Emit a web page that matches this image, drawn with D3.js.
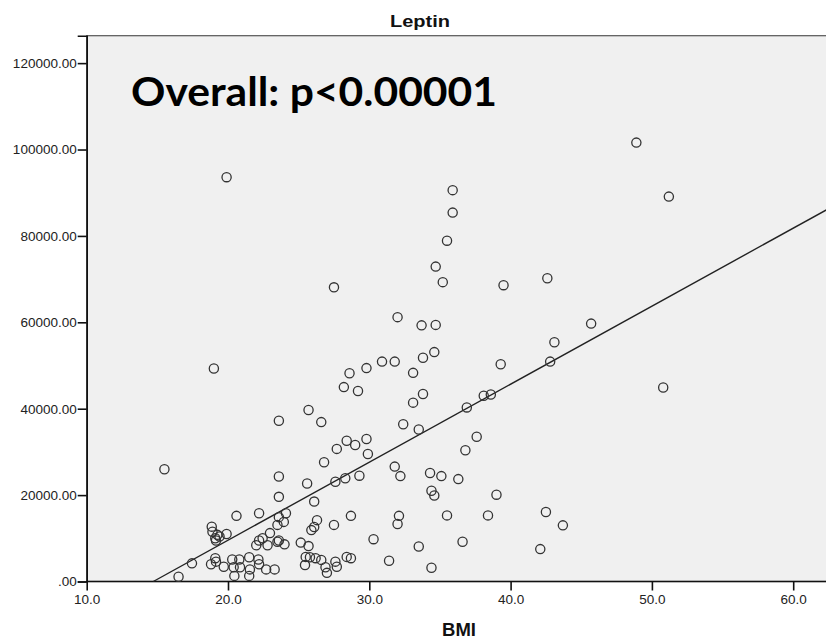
<!DOCTYPE html>
<html><head><meta charset="utf-8">
<script src="https://cdn.jsdelivr.net/npm/d3@7"></script>
<style>body{margin:0;background:#fff}</style>
</head><body><svg id="c" width="826" height="640"></svg>
<script>
// Data (BMI vs Leptin)
const bmi = [
 48.9,51.2,35.9,35.9,35.5,34.7,35.2,39.5,42.6,19.9,27.5,32.0,33.7,34.7,34.6,45.7,43.1,39.3,42.8,50.8,
 38.1,38.6,36.9,37.6,36.8,34.3,35.1,36.3,34.4,34.6,39.0,35.5,38.4,42.5,43.7,36.6,42.1,34.4,
 19.0,15.5,23.6,25.7,26.6,28.6,28.2,29.2,29.8,30.9,31.8,33.1,33.8,33.1,33.8,32.4,33.5,29.8,28.4,29.0,
 27.7,29.9,26.8,31.8,32.2,23.6,29.3,25.6,27.6,28.3,
 26.1,24.1,26.3,26.1,25.9,27.5,28.7,32.1,32.0,30.3,33.5,24.0,25.15,25.7,25.5,25.8,26.2,26.6,25.45,26.9,
 27.0,27.6,27.7,28.4,28.7,31.4,
 23.6,20.6,22.2,18.85,18.9,19.1,19.25,19.4,19.9,19.15,17.45,16.5,18.8,19.1,19.15,19.7,20.3,20.8,20.4,20.45,
 20.85,21.5,21.55,21.5,22.15,22.2,22.7,23.3,22.0,22.2,22.45,22.97,22.8,23.5,23.6,23.5,23.6,23.95
];
const leptin = [
 101600,89100,90600,85400,78900,72900,69300,68600,70200,93600,68100,61200,59300,59400,53100,59700,55400,50300,50900,44900,
 43000,43300,40300,33500,30400,25100,24400,23700,21000,19900,20100,15300,15300,16100,13000,9200,7500,3200,
 49300,26000,37200,39700,36900,48200,45000,44100,49400,50900,50900,48300,51800,41400,43400,36400,35200,33000,32600,31600,
 30700,29500,27600,26600,24400,24300,24500,22700,23100,23900,
 18500,15800,14200,12600,11900,13100,15200,15200,13300,9800,8100,8600,9000,8200,5700,5600,5400,5000,3800,3300,
 2000,4600,3400,5700,5400,4800,
 19600,15200,15800,12700,11500,10000,10800,10400,11000,9500,4200,1100,4000,5400,4600,3400,5100,5100,3300,1300,
 3300,5600,2800,1300,5100,4000,2800,2800,8400,9500,10000,11200,8400,9200,9500,13100,14900,13800
];
const xTicks = [10, 20, 30, 40, 50, 60];
const yTicks = [0, 20000, 40000, 60000, 80000, 100000, 120000];
const fitIntercept = -26570, fitSlope = 1806;   // linear fit line
const title = "Leptin", xLabel = "BMI", note = "Overall: p<0.00001";

const svg = d3.select("#c");
const L = 86.7, T = 35.7, B = 581.5, R = 840;
const x = d3.scaleLinear().domain([10, 63]).range([L, L + 53 * 14.13]);
const y = d3.scaleLinear().domain([0, 126350]).range([B, T]);

// plot background
svg.append("rect").attr("x", L).attr("y", T).attr("width", R - L).attr("height", B - T)
  .attr("fill", "#f0f0f0").attr("stroke", "#555").attr("stroke-width", 1.2);

// axes
const ya = svg.append("g").attr("transform", `translate(${L},0)`)
  .call(d3.axisLeft(y).tickValues(yTicks).tickSize(9).tickPadding(1)
    .tickFormat(d => d === 0 ? ".00" : d.toFixed(2)));
const xa = svg.append("g").attr("transform", `translate(0,${B})`)
  .call(d3.axisBottom(x).tickValues(xTicks).tickSize(9).tickPadding(4)
    .tickFormat(d => d.toFixed(1)));
[ya, xa].forEach(g => {
  g.select(".domain").attr("stroke", "#111").attr("stroke-width", 1.6);
  g.selectAll(".tick line").attr("stroke", "#111").attr("stroke-width", 1.6);
  g.selectAll(".tick text").attr("fill", "#222")
    .style("font-family", "'Liberation Sans', Arial, sans-serif").style("font-size", "13.5px");
});
xa.select(".domain").attr("d", `M${L},0H${R}`);

// fit line
const x0 = -fitIntercept / fitSlope, x1 = x.domain()[1];
svg.append("line")
  .attr("x1", x(x0)).attr("y1", y(fitIntercept + fitSlope * x0))
  .attr("x2", x(x1)).attr("y2", y(fitIntercept + fitSlope * x1))
  .attr("stroke", "#222").attr("stroke-width", 1.4);

// points
svg.append("g").selectAll("circle").data(bmi.map((b, i) => [b, leptin[i]])).join("circle")
  .attr("cx", d => x(d[0])).attr("cy", d => y(d[1])).attr("r", 4.6)
  .attr("fill", "none").attr("stroke", "#333").attr("stroke-width", 1.3);

// texts
svg.append("text").attr("x", 420).attr("y", 27).attr("text-anchor", "middle")
  .style("font-family", "'Liberation Sans', Arial, sans-serif").style("font-weight", "bold")
  .style("font-size", "16.5px").attr("textLength", 60).attr("lengthAdjust", "spacingAndGlyphs").attr("fill", "#111")
  .text(title);
svg.append("text").attr("x", 459).attr("y", 636).attr("text-anchor", "middle")
  .style("font-family", "'Liberation Sans', Arial, sans-serif").style("font-weight", "bold")
  .style("font-size", "18.5px").attr("fill", "#111").text(xLabel);
svg.append("text").attr("x", 131).attr("y", 106)
  .style("font-family", "Lato, 'Noto Sans', sans-serif").style("font-weight", "bold")
  .style("font-size", "40px").attr("textLength", 366).attr("lengthAdjust", "spacingAndGlyphs").attr("fill", "#000")
  .text(note);
</script></body></html>
